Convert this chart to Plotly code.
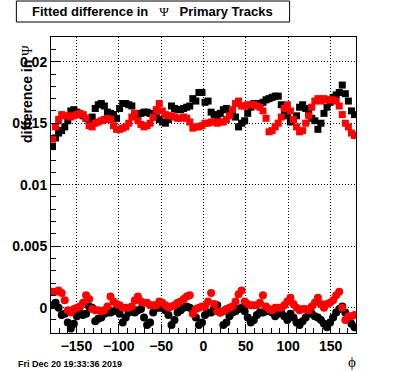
import plotly.graph_objects as go

# phi bin centers: 100 bins from -180 to 180
phi = [-178.2 + 3.6 * i for i in range(100)]

# upper band (squares), units of 1e-4
black_sq = [131, 138, 142, 144, 147, 152, 160, 161, 159, 157,
            156, 154, 152, 155, 162, 165, 166, 164, 159, 158,
            157, 154, 162, 166, 166, 165, 164, 158, 157, 158,
            159, 159, 158, 156, 155, 153, 151, 150, 153, 164,
            162, 161, 161, 162, 163, 164, 170, 168, 175, 175,
            167, 168, 159, 157, 155, 158, 161, 162, 160, 157,
            155, 147, 150, 152, 158, 163, 166, 165, 166, 167,
            169, 170, 171, 172, 172, 165, 159, 156, 151, 153,
            156, 163, 165, 162, 158, 154, 152, 145, 150, 158,
            163, 167, 171, 173, 175, 181, 174, 168, 160, 157]
red_sq = [137, 147, 153, 157, 156, 156, 155, 156, 157, 158,
          157, 154, 148, 147, 150, 151, 152, 153, 154, 153,
          148, 145, 145, 146, 147, 150, 155, 158, 152, 149,
          147, 148, 150, 155, 161, 166, 160, 157, 156, 156,
          155, 154, 154, 155, 154, 151, 146, 147, 147, 148,
          150, 150, 151, 151, 150, 151, 151, 153, 156, 161,
          166, 168, 164, 164, 165, 165, 165, 164, 163, 160,
          154, 143, 144, 147, 150, 155, 162, 165, 160, 153,
          147, 143, 144, 150, 156, 163, 168, 170, 168, 170,
          169, 169, 169, 168, 164, 157, 150, 147, 142, 140]
# lower band (circles), units of 1e-4
black_ci = [2, 4, 0, -6, -5, -12, -17, -13, -7, -4,
            -6, -5, 1, 0, -11, -9, -8, -5, -4, -4,
            -3, -2, -5, -12, -8, -4, -3, -4, -2, -1,
            -8, -14, -12, -4, 0, 0, 0, -2, -6, -14,
            -10, -4, -2, 0, 1, 0, -3, -8, -14, -12,
            -6, -4, -4, 0, 2, -4, -14, -12, -7, -4,
            -3, -1, 0, -3, -8, -12, -10, -6, -4, -4,
            -3, -2, -4, -7, -5, -4, -7, -10, -5, -8,
            -12, -14, -11, -8, -4, -5, -7, -8, -10, -13,
            -16, -12, -8, -4, -1, 1, -4, -8, -13, -16]
red_ci = [13, 13, 14, 12, 6, -2, -4, -1, 0, 1,
          4, 10, 7, -1, -2, -2, -3, -2, 1, 9,
          5, 3, 2, 0, 0, 0, 1, 6, 9, 5,
          4, 4, 2, 2, 2, 5, 4, 2, 0, 1,
          2, 4, 5, 7, 9, 10, -5, -1, 0, 1,
          1, 5, 12, 3, -3, -4, -3, -1, 0, 1,
          5, 11, 14, 5, 3, 2, 2, 2, 4, 10,
          1, -1, -2, 0, 0, 0, 2, 5, 8, 3,
          0, -2, -1, -1, -2, 1, 4, 8, 3, 0,
          3, 4, 6, 10, 13, 0, -10, -7, -7, -6]

x_ticks = [-150, -100, -50, 0, 50, 100, 150]
x_tick_labels = ["\u2212150", "\u2212100", "\u221250", "0", "50", "100", "150"]
y_ticks = [0, 0.005, 0.01, 0.015, 0.02]
y_tick_labels = ["0", "0.005", "0.01", "0.015", "0.02"]

SCALE = 1e-4
W, H = 396, 372
L, R, T, B = 39, 40, 37, 39
PW, PH = W - L - R, H - T - B


def px(x):
    return (x - L) / PW


def py(y):
    return (H - B - y) / PH


fig = go.Figure()
for vals, color, sym, size in [
    (black_sq, "black", "square", 7),
    (red_sq, "red", "square", 7),
    (black_ci, "black", "circle", 8),
    (red_ci, "red", "circle", 8),
]:
    fig.add_trace(go.Scatter(
        x=phi, y=[v * SCALE for v in vals], mode="markers",
        marker=dict(symbol=sym, size=size, color=color, line=dict(width=0)),
        showlegend=False, hoverinfo="skip"))

font_main = "Liberation Sans, Arial, Helvetica, sans-serif"
tickfont = dict(family=font_main, size=14, color="black", weight="bold")

fig.update_xaxes(
    range=[-180, 180], tickvals=x_ticks, ticktext=x_tick_labels,
    ticks="inside", ticklen=9, tickcolor="black", tickwidth=1,
    minor=dict(dtick=10, tick0=0, ticks="inside", ticklen=5, tickcolor="black", showgrid=False),
    showgrid=True, gridcolor="black", griddash="1px,2px", gridwidth=1,
    showline=True, linecolor="black", linewidth=1, mirror=True,
    zeroline=False, tickfont=tickfont)
fig.update_yaxes(
    range=[-0.00206, 0.02201], tickvals=y_ticks, ticktext=y_tick_labels,
    ticks="inside", ticklen=9, tickcolor="black", tickwidth=1,
    minor=dict(dtick=0.001, tick0=0, ticks="inside", ticklen=5, tickcolor="black", showgrid=False),
    showgrid=True, gridcolor="black", griddash="1px,2px", gridwidth=1,
    showline=True, linecolor="black", linewidth=1, mirror=True,
    zeroline=False, tickfont=tickfont)

fig.add_shape(type="rect", xref="paper", yref="paper",
              x0=px(3), x1=px(287), y0=py(22), y1=py(1),
              line=dict(color="black", width=1), fillcolor="white", layer="above")

serif = "Liberation Serif, Times New Roman, serif"
annotations = [
    dict(text="Fitted difference in   <span style='font-family:" + serif + ";font-weight:normal'>\u03a8</span>   Primary Tracks",
         x=px(145), y=py(11.5), xanchor="center", yanchor="middle",
         font=dict(family=font_main, size=13, color="black", weight="bold")),
    dict(text="difference in <span style='font-family:" + serif + ";font-weight:normal'>\u03a8</span>",
         x=px(14), y=py(43), xanchor="center", yanchor="top", textangle=-90,
         font=dict(family=font_main, size=14, color="black", weight="bold")),
    dict(text="\u03d5", x=px(352), y=py(362), xanchor="center", yanchor="middle",
         font=dict(family=serif, size=15, color="black")),
    dict(text="Fri Dec 20 19:33:36 2019", x=px(3), y=py(364), xanchor="left", yanchor="middle",
         font=dict(family=font_main, size=9, color="black", weight="bold")),
]
for a in annotations:
    a.update(xref="paper", yref="paper", showarrow=False)
fig.update_layout(annotations=annotations)

fig.update_layout(width=W, height=H, autosize=False,
                  margin=dict(l=L, r=R, t=T, b=B, pad=0),
                  paper_bgcolor="white", plot_bgcolor="white")

fig.write_html("out.html", config={"displayModeBar": False},
               post_script="document.body.style.margin='0px';document.body.style.overflow='hidden';")
